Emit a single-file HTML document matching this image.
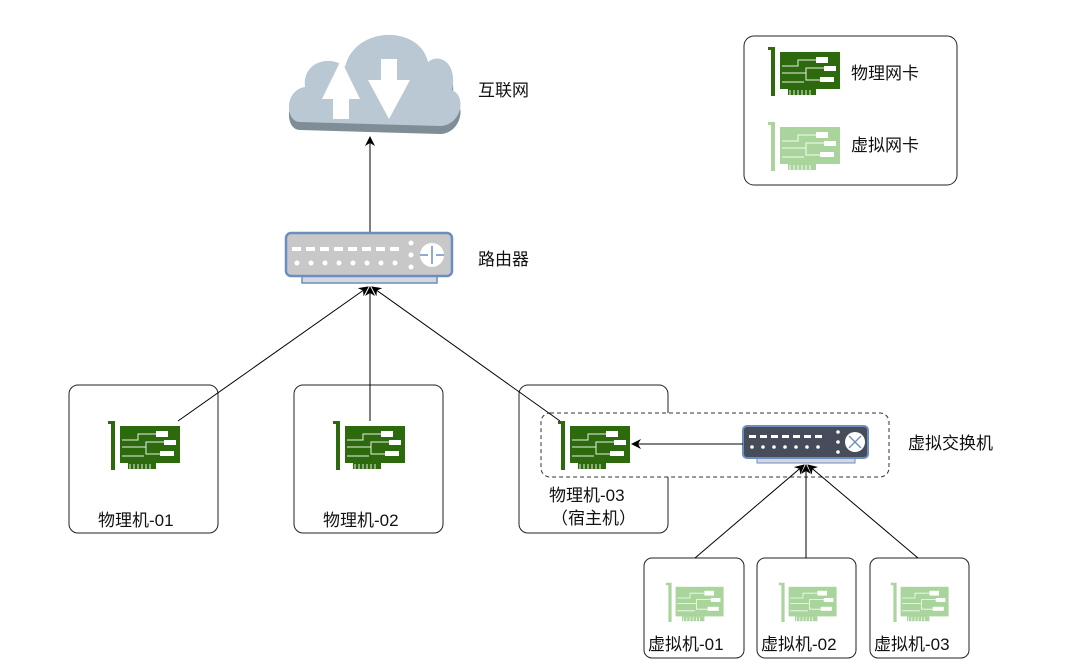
<!DOCTYPE html>
<html><head><meta charset="utf-8"><style>
html,body{margin:0;padding:0;background:#fff;}
svg{display:block;}
text{font-family:"Liberation Sans","Noto Sans CJK SC",sans-serif;font-size:17px;fill:#111;}
</style></head><body>
<svg width="1077" height="671" viewBox="0 0 1077 671" xmlns="http://www.w3.org/2000/svg">
<defs>
<g id="nic">
  <path d="M0 1 H7 V50 H3 V4 H0 Z" fill="currentColor"/>
  <rect x="12" y="6" width="60" height="37" fill="currentColor"/>
  <rect x="20" y="43" width="28" height="6" fill="currentColor"/>
  <g stroke="#fff" stroke-width="1" fill="none" opacity="0.9">
    <line x1="22" y1="44" x2="22" y2="49"/><line x1="26" y1="44" x2="26" y2="49"/><line x1="30" y1="44" x2="30" y2="49"/><line x1="34" y1="44" x2="34" y2="49"/><line x1="38" y1="44" x2="38" y2="49"/><line x1="42" y1="44" x2="42" y2="49"/>
    <path d="M14 20 H30 V14 H48"/><path d="M14 27 H38 M38 27 V22 H56 M38 27 V34 H52"/><path d="M14 36 H36"/>
  </g>
  <rect x="48" y="11" width="12" height="6" fill="#fff"/>
  <rect x="56" y="20" width="12" height="5" fill="#fff"/>
  <rect x="52" y="31" width="14" height="5" fill="#fff"/>
</g>
<marker id="ar" markerWidth="10" markerHeight="10" refX="9" refY="5" orient="auto" markerUnits="userSpaceOnUse">
  <path d="M0 0 L10 5 L0 10 L3 5 Z" fill="#000"/>
</marker>
</defs>

<!-- cloud -->
<path d="M300 122 C285 122 284 90 305 87 C302 62 330 54 345 67 C355 25 420 25 428 62 C440 52 458 64 452 90 C468 97 460 126 440 126 Z" fill="#7f8d97" transform="translate(0,8)"/>
<path d="M300 122 C285 122 284 90 305 87 C302 62 330 54 345 67 C355 25 420 25 428 62 C440 52 458 64 452 90 C468 97 460 126 440 126 Z" fill="#b9c8d3"/>
<path d="M341 60 L322 99 L333 99 L333 119 L349 119 L349 99 L360 99 Z" fill="#fff"/>
<path d="M381 59 L397 59 L397 80 L410 80 L389 119 L368 80 L381 80 Z" fill="#fff"/>
<text x="478" y="96">互联网</text>

<line x1="370" y1="232" x2="370" y2="137" stroke="#000" stroke-width="1" marker-end="url(#ar)"/>

<!-- router -->
<rect x="302" y="274" width="135" height="9" fill="#d5d7e3" stroke="#6c8ebf" stroke-width="1.5"/>
<rect x="286" y="233" width="166" height="43" rx="5" fill="#c8c8c8" stroke="#6c8ebf" stroke-width="2.5"/>
<g fill="#fff">
<rect x="292" y="247" width="9" height="4"/><rect x="306" y="247" width="9" height="4"/><rect x="320" y="247" width="9" height="4"/><rect x="334" y="247" width="9" height="4"/><rect x="348" y="247" width="9" height="4"/><rect x="362" y="247" width="9" height="4"/><rect x="376" y="247" width="9" height="4"/><rect x="390" y="247" width="9" height="4"/>
<circle cx="297" cy="263" r="2.5"/><circle cx="311" cy="263" r="2.5"/><circle cx="325" cy="263" r="2.5"/><circle cx="339" cy="263" r="2.5"/><circle cx="353" cy="263" r="2.5"/><circle cx="367" cy="263" r="2.5"/><circle cx="381" cy="263" r="2.5"/><circle cx="395" cy="263" r="2.5"/>
<circle cx="411" cy="243" r="2.5"/><circle cx="411" cy="255" r="2.5"/><circle cx="411" cy="267" r="2.5"/>
<circle cx="432" cy="255" r="12"/>
</g>
<g stroke="#6c8ebf" stroke-width="1.5" fill="none"><line x1="432" y1="246" x2="432" y2="264"/><line x1="420" y1="255" x2="428" y2="255"/><line x1="436" y1="255" x2="444" y2="255"/></g>
<text x="478" y="265">路由器</text>

<!-- legend -->
<rect x="744" y="36" width="213" height="149" rx="10" fill="#fff" stroke="#222" stroke-width="1"/>
<use href="#nic" x="768" y="46" style="color:#2d6a0d"/>
<text x="851" y="79">物理网卡</text>
<use href="#nic" x="768" y="121" style="color:#a9d59c"/>
<text x="851" y="151">虚拟网卡</text>

<!-- physical boxes -->
<rect x="69" y="385" width="149" height="148" rx="9" fill="#fff" stroke="#222"/>
<rect x="294" y="385" width="149" height="148" rx="9" fill="#fff" stroke="#222"/>
<rect x="519" y="385" width="149" height="148" rx="9" fill="#fff" stroke="#222"/>
<use href="#nic" x="108" y="420" style="color:#2d6a0d"/>
<use href="#nic" x="333" y="420" style="color:#2d6a0d"/>
<text x="98" y="526">物理机-01</text>
<text x="323" y="526">物理机-02</text>

<!-- dashed -->
<rect x="541" y="413" width="348" height="64" rx="9" fill="#fff" stroke="#333" stroke-dasharray="4 3"/>
<use href="#nic" x="558" y="420" style="color:#2d6a0d"/>
<text x="549" y="501">物理机-03</text>
<text x="551" y="524">（宿主机）</text>

<line x1="178" y1="421" x2="368" y2="287" stroke="#000" marker-end="url(#ar)"/>
<line x1="370" y1="421" x2="370" y2="287" stroke="#000" marker-end="url(#ar)"/>
<line x1="560" y1="421" x2="372" y2="287" stroke="#000" marker-end="url(#ar)"/>

<!-- switch -->
<rect x="757" y="457" width="98" height="6" fill="#d5d7e3" stroke="#6c8ebf"/>
<rect x="743" y="426" width="125" height="32" rx="4" fill="#474c5b" stroke="#6c8ebf" stroke-width="2"/>
<g fill="#fff">
<rect x="749" y="435" width="7" height="3"/><rect x="760" y="435" width="7" height="3"/><rect x="771" y="435" width="7" height="3"/><rect x="782" y="435" width="7" height="3"/><rect x="793" y="435" width="7" height="3"/><rect x="804" y="435" width="7" height="3"/><rect x="815" y="435" width="7" height="3"/>
<circle cx="752" cy="447" r="1.8"/><circle cx="763" cy="447" r="1.8"/><circle cx="774" cy="447" r="1.8"/><circle cx="785" cy="447" r="1.8"/><circle cx="796" cy="447" r="1.8"/><circle cx="807" cy="447" r="1.8"/><circle cx="818" cy="447" r="1.8"/>
<circle cx="838" cy="432" r="1.8"/><circle cx="838" cy="442" r="1.8"/><circle cx="838" cy="452" r="1.8"/>
<circle cx="855" cy="442" r="10"/>
</g>
<g stroke="#6c8ebf" stroke-width="1.3"><line x1="849" y1="436" x2="861" y2="448"/><line x1="861" y1="436" x2="849" y2="448"/></g>
<line x1="743" y1="444" x2="632" y2="444" stroke="#000" marker-end="url(#ar)"/>
<text x="908" y="449">虚拟交换机</text>

<!-- VMs -->
<rect x="644" y="558" width="100" height="100" rx="8" fill="#fff" stroke="#222"/>
<rect x="757" y="558" width="99" height="100" rx="8" fill="#fff" stroke="#222"/>
<rect x="870" y="558" width="99" height="100" rx="8" fill="#fff" stroke="#222"/>
<g transform="translate(666,582) scale(0.8)" style="color:#a9d59c"><use href="#nic"/></g>
<g transform="translate(779,582) scale(0.8)" style="color:#a9d59c"><use href="#nic"/></g>
<g transform="translate(891,582) scale(0.8)" style="color:#a9d59c"><use href="#nic"/></g>
<text x="648" y="650">虚拟机-01</text>
<text x="761" y="650">虚拟机-02</text>
<text x="874" y="650">虚拟机-03</text>
<line x1="695" y1="558" x2="804" y2="465" stroke="#000" marker-end="url(#ar)"/>
<line x1="806" y1="558" x2="806" y2="465" stroke="#000" marker-end="url(#ar)"/>
<line x1="918" y1="558" x2="808" y2="465" stroke="#000" marker-end="url(#ar)"/>
</svg>
</body></html>
